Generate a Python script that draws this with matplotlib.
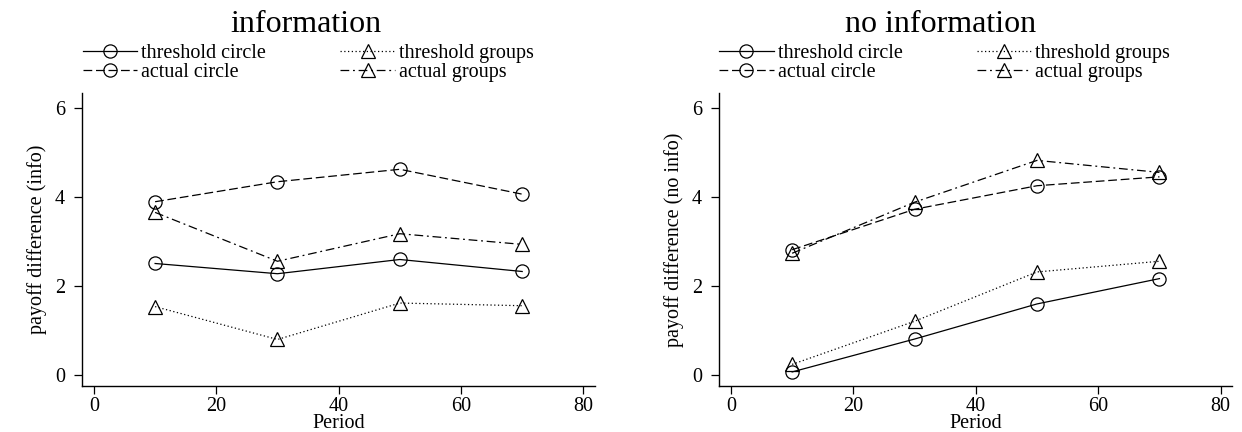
import matplotlib
matplotlib.use("Agg")
import matplotlib.pyplot as plt

# data
periods = [10, 30, 50, 70]

info_threshold_circle = [2.51, 2.28, 2.60, 2.33]
info_actual_circle = [3.90, 4.35, 4.63, 4.07]
info_threshold_groups = [1.54, 0.80, 1.62, 1.56]
info_actual_groups = [3.66, 2.56, 3.18, 2.94]

noinfo_threshold_circle = [0.07, 0.81, 1.60, 2.17]
noinfo_actual_circle = [2.82, 3.73, 4.26, 4.46]
noinfo_threshold_groups = [0.24, 1.21, 2.32, 2.56]
noinfo_actual_groups = [2.74, 3.89, 4.83, 4.56]

series_labels = ["threshold circle", "actual circle", "threshold groups", "actual groups"]
x_ticks = [0, 20, 40, 60, 80]
y_ticks = [0, 2, 4, 6]

plt.rcParams['font.family'] = ['Liberation Serif', 'DejaVu Serif']

styles = [
    dict(linestyle='-', marker='o'),
    dict(linestyle=(0, (7, 3)), marker='o'),
    dict(linestyle=(0, (1, 2)), marker='^'),
    dict(linestyle=(0, (7, 3, 1.5, 3)), marker='^'),
]

FS = 14.5
W, H = 1242, 432


def draw_panel(fig, rect, series, title, ylabel, title_x, legend_x):
    ax = fig.add_axes(rect)
    handles = []
    for vals, st in zip(series, styles):
        h, = ax.plot(periods, vals, color='black', lw=0.9, markersize=9.5,
                     markerfacecolor='none', markeredgecolor='black',
                     markeredgewidth=0.9, **st)
        handles.append(h)
    ax.set_xlim(-1.9, 81.9)
    ax.set_ylim(-0.24, 6.34)
    ax.set_xticks(x_ticks)
    ax.set_yticks(y_ticks)
    ax.spines['top'].set_visible(False)
    ax.spines['right'].set_visible(False)
    for s in ['left', 'bottom']:
        ax.spines[s].set_linewidth(1.0)
    ax.tick_params(axis='both', direction='out', length=5.8, width=0.9, labelsize=FS)
    ax.tick_params(axis='y', pad=6.5)
    ax.tick_params(axis='x', pad=2)
    ax.set_xlabel("Period", fontsize=FS, labelpad=-1)
    ax.set_ylabel(ylabel, fontsize=FS, labelpad=6)

    fig.text(title_x, 1 - 32 / H, title, fontsize=23, ha='center', va='baseline')
    fig.legend(handles, series_labels, loc='center left',
               bbox_to_anchor=(legend_x / W, 1 - 63 / H), ncol=2, frameon=False,
               handlelength=2.7, handletextpad=0.2, columnspacing=3.7,
               borderpad=0, borderaxespad=0, labelspacing=0, fontsize=FS)
    return ax


fig = plt.figure(figsize=(W / 100, H / 100), dpi=100)

draw_panel(fig, [82.3 / W, 1 - 385.7 / H, 512.7 / W, 292.4 / H],
           [info_threshold_circle, info_actual_circle, info_threshold_groups, info_actual_groups],
           "information", "payoff difference (info)", 306 / W, 82.7)
draw_panel(fig, [719.3 / W, 1 - 385.7 / H, 513 / W, 292.4 / H],
           [noinfo_threshold_circle, noinfo_actual_circle, noinfo_threshold_groups, noinfo_actual_groups],
           "no information", "payoff difference (no info)", 941 / W, 719.3)

fig.savefig("out.png", dpi=100)
